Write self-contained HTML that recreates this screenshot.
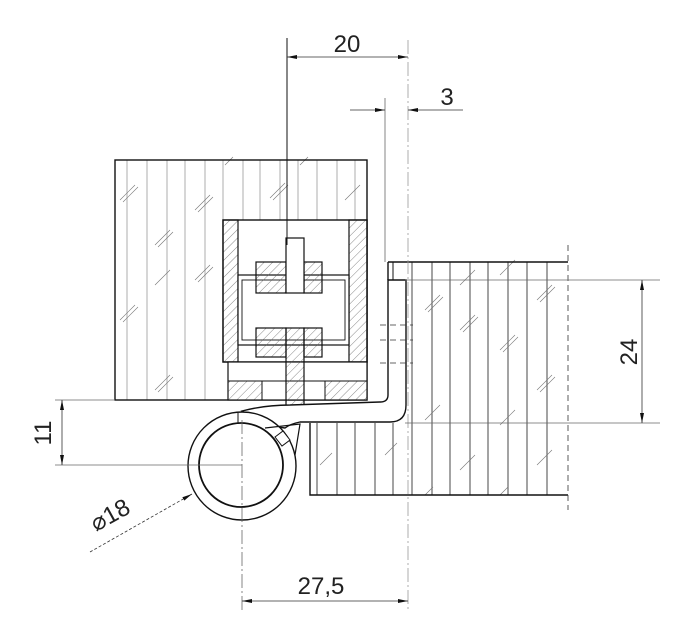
<!DOCTYPE html>
<html><head><meta charset="utf-8"><style>
html,body{margin:0;padding:0;background:#fff;}
svg{display:block;}
text{font-family:"Liberation Sans",sans-serif;fill:#222;}
</style></head><body>
<svg width="688" height="637" viewBox="0 0 688 637" xmlns="http://www.w3.org/2000/svg">
<defs>
<marker id="a" viewBox="0 0 10 6" refX="10" refY="3" markerWidth="10" markerHeight="6" orient="auto-start-reverse" markerUnits="userSpaceOnUse"><path d="M0,1 L10,3 L0,5 Z" fill="#111"/></marker>
<pattern id="h" width="6" height="6" patternUnits="userSpaceOnUse" patternTransform="rotate(45)"><line x1="0" y1="0" x2="0" y2="6" stroke="#555" stroke-width="0.7"/></pattern>
</defs>
<g stroke="#999" stroke-width="0.8">
<line x1="127" y1="160" x2="127" y2="400"/><line x1="147" y1="160" x2="147" y2="400"/><line x1="167" y1="160" x2="167" y2="400"/><line x1="185" y1="160" x2="185" y2="400"/><line x1="205" y1="160" x2="205" y2="400"/><line x1="223" y1="160" x2="223" y2="220"/><line x1="243" y1="160" x2="243" y2="220"/><line x1="260" y1="160" x2="260" y2="220"/><line x1="280" y1="160" x2="280" y2="220"/><line x1="298" y1="160" x2="298" y2="220"/><line x1="317" y1="160" x2="317" y2="220"/><line x1="337" y1="160" x2="337" y2="220"/><line x1="355" y1="160" x2="355" y2="220"/>
</g>
<g stroke="#333" stroke-width="0.9">
<line x1="412" y1="262" x2="412" y2="495"/><line x1="432" y1="262" x2="432" y2="495"/><line x1="450" y1="262" x2="450" y2="495"/><line x1="470" y1="262" x2="470" y2="495"/><line x1="488" y1="262" x2="488" y2="495"/><line x1="508" y1="262" x2="508" y2="495"/><line x1="527" y1="262" x2="527" y2="495"/><line x1="547" y1="262" x2="547" y2="495"/>
<line x1="317" y1="423" x2="317" y2="495"/><line x1="337" y1="423" x2="337" y2="495"/><line x1="355" y1="423" x2="355" y2="495"/><line x1="375" y1="423" x2="375" y2="495"/><line x1="393" y1="423" x2="393" y2="495"/>
</g>
<g stroke="#777" stroke-width="0.6">
<path d="M120,200 l15,-15 M123,202 l15,-15 M155,245 l15,-15 M158,247 l15,-15 M120,320 l15,-15 M123,322 l15,-15 M155,285 l15,-15 M155,390 l15,-15 M158,392 l15,-15 M195,210 l15,-15 M198,212 l15,-15 M195,280 l15,-15 M198,282 l15,-15 M270,198 l15,-15 M273,200 l15,-15 M345,200 l15,-15 M225,165 l8,-8 M300,165 l8,-8"/>
<path d="M425,310 l15,-15 M428,312 l15,-15 M460,330 l15,-15 M463,332 l15,-15 M500,350 l15,-15 M503,352 l15,-15 M537,300 l15,-15 M540,302 l15,-15 M537,390 l15,-15 M540,392 l15,-15 M460,285 l15,-15 M500,275 l15,-15 M425,420 l15,-15 M500,425 l15,-15 M460,470 l15,-15 M537,465 l15,-15 M320,465 l12,-12 M385,455 l12,-12 M425,495 l8,-8 M500,495 l8,-8"/>
</g>
<g fill="none" stroke="#111" stroke-width="1.4">
<rect x="115" y="160" width="252" height="240"/>
<path d="M388,262 H568 M388,262 V280 M310,423 V495 H568"/>
</g>
<rect x="223" y="220" width="144" height="142" fill="#fff" stroke="#111" stroke-width="1.4"/>
<rect x="223" y="220" width="15" height="142" fill="url(#h)" stroke="#111" stroke-width="1.2"/>
<rect x="349" y="220" width="18" height="142" fill="url(#h)" stroke="#111" stroke-width="1.2"/>
<rect x="238" y="275" width="111" height="70" fill="#fff" stroke="#111" stroke-width="1.2"/>
<rect x="242" y="280" width="103" height="60" fill="none" stroke="#111" stroke-width="0.9"/>
<rect x="256" y="262" width="30" height="31" fill="url(#h)" stroke="#111" stroke-width="1.2"/>
<rect x="304" y="262" width="18" height="31" fill="url(#h)" stroke="#111" stroke-width="1.2"/>
<rect x="286" y="238" width="18" height="55" fill="#fff" stroke="#111" stroke-width="1.2"/>
<rect x="256" y="328" width="30" height="29" fill="url(#h)" stroke="#111" stroke-width="1.2"/>
<rect x="304" y="328" width="18" height="29" fill="url(#h)" stroke="#111" stroke-width="1.2"/>
<rect x="228" y="362" width="139" height="38" fill="#fff" stroke="#111" stroke-width="1.2"/>
<line x1="228" y1="381" x2="367" y2="381" stroke="#111" stroke-width="1"/>
<rect x="228" y="381" width="34" height="19" fill="url(#h)" stroke="#111"/>
<rect x="325" y="381" width="42" height="19" fill="url(#h)" stroke="#111"/>
<rect x="286" y="328" width="18" height="78" fill="url(#h)" stroke="#111" stroke-width="1.2"/>
<path d="M388,280 H406 V405 Q406,422 390,422 L300,422 Q290,424 285,428 L262,425 L242,411 Q265,405 290,405 L380,402 Q388,402 388,395 Z" fill="#fff" stroke="#111" stroke-width="1.4"/>
<line x1="393" y1="262" x2="393" y2="280" stroke="#111"/>
<circle cx="242" cy="466" r="54" fill="#fff" stroke="#111" stroke-width="1.4"/>
<circle cx="241" cy="465" r="42" fill="#fff" stroke="#111" stroke-width="1.8"/>
<path d="M265,428 L300,424 L295,455" fill="none" stroke="#111" stroke-width="1.2"/>
<path d="M275,437 l8,-6 l7,9 l-8,6 z" fill="#fff" stroke="#111"/>
<line x1="238" y1="413" x2="238" y2="424" stroke="#111"/>
<g stroke="#333" stroke-width="0.8" stroke-dasharray="6,4">
<line x1="380" y1="325" x2="413" y2="325"/><line x1="380" y1="340" x2="413" y2="340"/><line x1="380" y1="363" x2="413" y2="363"/>
<line x1="568" y1="245" x2="568" y2="510"/>
</g>
<g stroke="#666" stroke-width="0.8" fill="none">
<line x1="408" y1="40" x2="408" y2="610" stroke="#999" stroke-dasharray="14,3,2,3"/>
<line x1="242" y1="420" x2="242" y2="612" stroke-dasharray="14,3,2,3"/>
<line x1="385" y1="98" x2="385" y2="262"/>
<line x1="405" y1="280" x2="660" y2="280"/><line x1="405" y1="423" x2="660" y2="423"/>
<line x1="55" y1="400" x2="115" y2="400"/><line x1="55" y1="465" x2="242" y2="465"/>
</g>
<line x1="287" y1="38" x2="287" y2="245" stroke="#111" stroke-width="1"/>
<g stroke="#333" stroke-width="0.8">
<line x1="287" y1="57" x2="408" y2="57" marker-start="url(#a)" marker-end="url(#a)"/>
<line x1="350" y1="110" x2="385" y2="110" marker-end="url(#a)"/>
<line x1="463" y1="110" x2="408" y2="110" marker-end="url(#a)"/>
<line x1="642" y1="280" x2="642" y2="423" marker-start="url(#a)" marker-end="url(#a)"/>
<line x1="62" y1="400" x2="62" y2="465" marker-start="url(#a)" marker-end="url(#a)"/>
<line x1="242" y1="601" x2="408" y2="601" marker-start="url(#a)" marker-end="url(#a)"/>
<line x1="90" y1="552" x2="192" y2="494" stroke-dasharray="3,2" marker-end="url(#a)"/>
</g>
<text x="347" y="52" font-size="24" text-anchor="middle">20</text>
<text x="447" y="105" font-size="24" text-anchor="middle">3</text>
<text x="321" y="594" font-size="24" text-anchor="middle">27,5</text>
<text transform="translate(637,352) rotate(-90)" font-size="24" text-anchor="middle">24</text>
<text transform="translate(51,433) rotate(-90)" font-size="24" text-anchor="middle">11</text>
<text transform="translate(96,532) rotate(-29)" font-size="24">⌀18</text>
</svg>
</body></html>
